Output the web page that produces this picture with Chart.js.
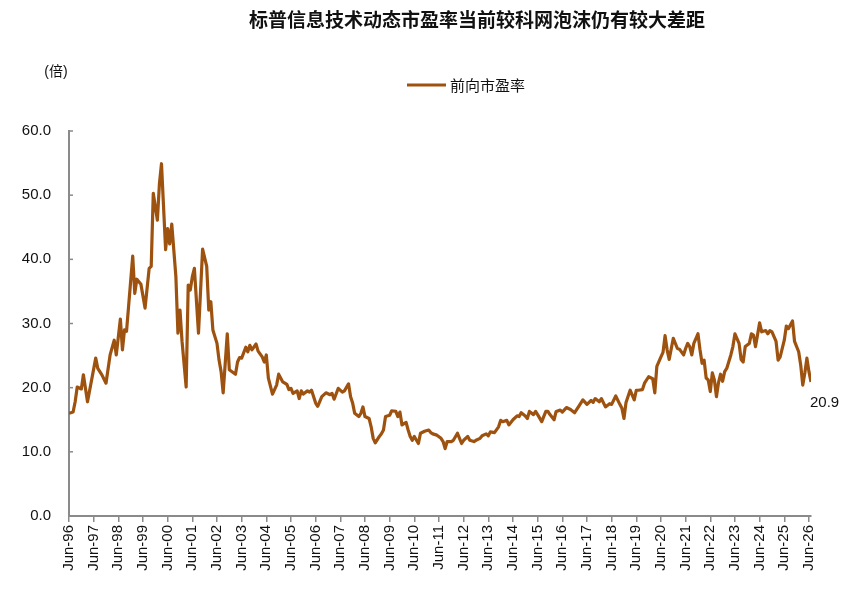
<!DOCTYPE html>
<html>
<head>
<meta charset="utf-8">
<script src="https://cdn.jsdelivr.net/npm/chart.js@4.4.1/dist/chart.umd.min.js"></script>
<style>
  html, body { margin: 0; padding: 0; background: #fff; }
  canvas { display: block; }
</style>
</head>
<body>
<canvas id="myChart" width="858" height="596"></canvas>
<script>

const chartTitle = '标普信息技术动态市盈率当前较科网泡沫仍有较大差距';
const unitLabel = '(倍)';
const seriesName = '前向市盈率';

// month of each reading
const dates = [
    '1996-06', '1996-08', '1996-09', '1996-10', '1996-12', '1997-01', '1997-03', '1997-07', '1997-08', '1997-10',
    '1997-12', '1998-02', '1998-04', '1998-05', '1998-07', '1998-08', '1998-09', '1998-10', '1999-01', '1999-02',
    '1999-03', '1999-05', '1999-07', '1999-09', '1999-10', '1999-11', '2000-01', '2000-02', '2000-03', '2000-05',
    '2000-06', '2000-07', '2000-08', '2000-10', '2000-11', '2000-12', '2001-01', '2001-03', '2001-04', '2001-05',
    '2001-06', '2001-07', '2001-09', '2001-11', '2002-01', '2002-02', '2002-03', '2002-04', '2002-06', '2002-07',
    '2002-08', '2002-09', '2002-11', '2002-12', '2003-03', '2003-04', '2003-05', '2003-06', '2003-08', '2003-09',
    '2003-10', '2003-11', '2004-01', '2004-02', '2004-04', '2004-05', '2004-06', '2004-07', '2004-09', '2004-11',
    '2004-12', '2005-02', '2005-04', '2005-05', '2005-06', '2005-07', '2005-09', '2005-10', '2005-11', '2005-12',
    '2006-02', '2006-03', '2006-04', '2006-06', '2006-07', '2006-09', '2006-11', '2007-01', '2007-02', '2007-03',
    '2007-05', '2007-07', '2007-08', '2007-10', '2007-11', '2007-12', '2008-01', '2008-03', '2008-04', '2008-05',
    '2008-06', '2008-08', '2008-09', '2008-10', '2008-11', '2009-01', '2009-02', '2009-03', '2009-04', '2009-06',
    '2009-07', '2009-09', '2009-10', '2009-11', '2009-12', '2010-02', '2010-03', '2010-04', '2010-05', '2010-06',
    '2010-08', '2010-09', '2010-11', '2011-01', '2011-02', '2011-03', '2011-05', '2011-07', '2011-08', '2011-09',
    '2011-10', '2011-12', '2012-01', '2012-03', '2012-04', '2012-05', '2012-06', '2012-08', '2012-09', '2012-11',
    '2012-12', '2013-02', '2013-03', '2013-05', '2013-06', '2013-07', '2013-09', '2013-11', '2013-12', '2014-01',
    '2014-03', '2014-04', '2014-06', '2014-08', '2014-09', '2014-10', '2014-12', '2015-01', '2015-02', '2015-04',
    '2015-05', '2015-06', '2015-08', '2015-10', '2015-11', '2015-12', '2016-02', '2016-03', '2016-05', '2016-06',
    '2016-08', '2016-10', '2016-12', '2017-02', '2017-04', '2017-06', '2017-08', '2017-09', '2017-10', '2017-12',
    '2018-01', '2018-03', '2018-05', '2018-06', '2018-08', '2018-10', '2018-11', '2018-12', '2019-01', '2019-03',
    '2019-05', '2019-06', '2019-07', '2019-09', '2019-10', '2019-12', '2020-02', '2020-03', '2020-04', '2020-06',
    '2020-07', '2020-08', '2020-09', '2020-10', '2020-12', '2021-02', '2021-03', '2021-05', '2021-06', '2021-07',
    '2021-08', '2021-09', '2021-10', '2021-12', '2022-01', '2022-02', '2022-03', '2022-04', '2022-05', '2022-06',
    '2022-07', '2022-08', '2022-09', '2022-10', '2022-11', '2022-12', '2023-01', '2023-02', '2023-04', '2023-05',
    '2023-06', '2023-08', '2023-09', '2023-10', '2023-11', '2024-01', '2024-02', '2024-03', '2024-04', '2024-06',
    '2024-07', '2024-09', '2024-10', '2024-11', '2024-12', '2025-02', '2025-03', '2025-04', '2025-06', '2025-07',
    '2025-08', '2025-10', '2025-11', '2026-01', '2026-02', '2026-03', '2026-04', '2026-05', '2026-06', '2026-07'
];

const peValues = [
    16.0, 16.2, 17.8, 20.1, 19.8, 22.0, 17.8, 24.6, 23.0, 22.0,
    20.7, 25.1, 27.4, 25.1, 30.7, 25.9, 29.0, 28.8, 40.5, 34.7,
    36.9, 36.1, 32.4, 38.6, 38.9, 50.3, 46.1, 51.8, 54.9, 41.5,
    44.8, 42.4, 45.5, 37.3, 28.5, 32.1, 27.2, 20.1, 36.0, 35.2,
    37.3, 38.6, 28.5, 41.6, 38.9, 32.1, 33.4, 29.0, 26.9, 24.3,
    22.5, 19.2, 28.4, 22.8, 22.1, 24.0, 24.7, 24.6, 26.3, 25.6,
    26.6, 25.9, 26.8, 25.7, 24.8, 24.0, 25.1, 21.5, 19.0, 20.4,
    22.1, 20.9, 20.5, 19.7, 19.9, 19.1, 19.5, 18.3, 19.5, 19.0,
    19.5, 19.3, 19.6, 17.6, 17.1, 18.6, 19.2, 18.9, 19.1, 18.2,
    19.9, 19.3, 19.5, 20.6, 18.6, 17.6, 16.0, 15.5, 16.0, 17.0,
    15.5, 15.2, 13.9, 12.1, 11.4, 12.4, 12.8, 13.4, 15.5, 15.7,
    16.4, 16.3, 15.5, 16.2, 14.2, 14.6, 13.4, 12.4, 11.8, 12.4,
    11.3, 12.9, 13.2, 13.4, 13.0, 12.8, 12.6, 12.1, 11.6, 10.5,
    11.6, 11.6, 11.8, 12.9, 12.1, 11.3, 11.8, 12.4, 11.8, 11.6,
    11.8, 12.1, 12.5, 12.8, 12.5, 13.1, 13.0, 13.9, 14.9, 14.7,
    14.9, 14.2, 15.0, 15.6, 15.5, 16.1, 15.6, 15.2, 16.3, 15.8,
    16.3, 15.8, 14.7, 16.3, 16.3, 15.8, 15.0, 16.3, 16.5, 16.2,
    16.9, 16.6, 16.1, 17.1, 18.1, 17.4, 18.0, 17.7, 18.3, 17.8,
    18.3, 17.0, 17.5, 17.4, 18.7, 17.4, 16.8, 15.2, 17.7, 19.6,
    18.1, 19.6, 19.6, 19.7, 20.7, 21.7, 21.4, 19.2, 23.3, 24.8,
    25.5, 28.1, 25.9, 24.4, 27.7, 26.1, 26.0, 25.1, 26.1, 26.9,
    26.4, 25.1, 26.9, 28.4, 25.9, 23.8, 24.3, 21.5, 21.2, 19.4,
    22.3, 21.2, 18.6, 20.8, 22.1, 21.0, 22.5, 23.0, 25.1, 26.4,
    28.4, 26.9, 24.4, 24.0, 26.4, 26.9, 28.4, 28.2, 26.4, 30.1,
    28.7, 28.9, 28.4, 28.9, 28.7, 27.2, 24.3, 24.8, 27.4, 29.6,
    29.2, 30.4, 27.2, 25.6, 23.5, 20.4, 22.3, 24.6, 22.5, 20.9
];

// x axis: one tick every June
const tickYears = [];
for (let y = 1996; y <= 2026; y++) tickYears.push(y);

const yTicks = [0, 10, 20, 30, 40, 50, 60];

const LINE_COLOR = '#9E5210';
const AXIS_COLOR = '#8a8a8a';
const LATIN = '"Liberation Sans", Arial, "Noto Sans CJK SC", sans-serif';
const CJK = '"Noto Sans CJK SC", "Liberation Sans", sans-serif';

// months since Jun-96
function monthIndex(s) {
    const [y, m] = s.split('-').map(Number);
    return (y - 1996) * 12 + (m - 6);
}

const points = dates.map((d, i) => ({ x: monthIndex(d), y: peValues[i] }));

const textPlugin = {
    id: 'texts',
    afterDraw(chart) {
        const ctx = chart.ctx;
        const area = chart.chartArea;
        const ys = chart.scales.y;
        ctx.save();

        // title
        ctx.fillStyle = '#111';
        ctx.font = 'bold 19px ' + CJK;
        ctx.textAlign = 'center';
        ctx.textBaseline = 'middle';
        ctx.fillText(chartTitle, 477, 20);

        // unit
        ctx.font = '14px ' + LATIN;
        ctx.fillText(unitLabel, 56, 72);

        // legend
        ctx.strokeStyle = LINE_COLOR;
        ctx.lineWidth = 3.2;
        ctx.beginPath();
        ctx.moveTo(407, 85);
        ctx.lineTo(446, 85);
        ctx.stroke();
        ctx.font = '15px ' + CJK;
        ctx.textAlign = 'left';
        ctx.fillText(seriesName, 450, 85);

        // inward y ticks
        ctx.strokeStyle = AXIS_COLOR;
        ctx.lineWidth = 1.5;
        yTicks.forEach(v => {
            const py = ys.getPixelForValue(v);
            ctx.beginPath();
            ctx.moveTo(area.left, py);
            ctx.lineTo(area.left + 4, py);
            ctx.stroke();
        });

        // last value
        const meta = chart.getDatasetMeta(0);
        const last = meta.data[meta.data.length - 1];
        ctx.fillStyle = '#111';
        ctx.font = '15px ' + LATIN;
        ctx.textAlign = 'left';
        ctx.fillText(peValues[peValues.length - 1].toFixed(1), last.x - 1, last.y + 21);

        ctx.restore();
    }
};

const config = {
    type: 'line',
    data: {
        datasets: [{
            label: seriesName,
            data: points,
            borderColor: LINE_COLOR,
            borderWidth: 3.2,
            pointRadius: 0,
            tension: 0,
            fill: false,
            borderJoinStyle: 'round',
        }]
    },
    options: {
        responsive: false,
        animation: false,
        devicePixelRatio: 1,
        layout: {
            padding: { top: 131, right: 47, bottom: 0, left: 0 }
        },
        plugins: {
            title: { display: false },
            legend: { display: false },
            tooltip: { enabled: false },
        },
        scales: {
            x: {
                type: 'linear',
                min: 0,
                max: 361,
                afterBuildTicks(scale) {
                    scale.ticks = tickYears.map(y => ({ value: (y - 1996) * 12 }));
                },
                afterFit(scale) { scale.height = 80; },
                ticks: {
                    minRotation: 90,
                    maxRotation: 90,
                    padding: 3,
                    color: '#111',
                    font: { family: LATIN, size: 15 },
                    callback: v => 'Jun-' + String(1996 + v / 12).slice(2),
                },
                grid: {
                    drawOnChartArea: false,
                    drawTicks: true,
                    tickLength: 6,
                    color: AXIS_COLOR,
                    lineWidth: 1.5,
                },
                border: { display: true, color: AXIS_COLOR, width: 2 },
            },
            y: {
                min: 0,
                max: 60,
                afterBuildTicks(scale) {
                    scale.ticks = yTicks.map(v => ({ value: v }));
                },
                afterFit(scale) { scale.width = 69; },
                ticks: {
                    padding: 18,
                    color: '#111',
                    font: { family: LATIN, size: 15 },
                    callback: v => v.toFixed(1),
                },
                grid: { display: false, drawTicks: false },
                border: { display: true, color: AXIS_COLOR, width: 2 },
            }
        }
    },
    plugins: [textPlugin],
};

const ctx = document.getElementById('myChart');
let myChart = new Chart(ctx, config);

</script>
</body>
</html>
